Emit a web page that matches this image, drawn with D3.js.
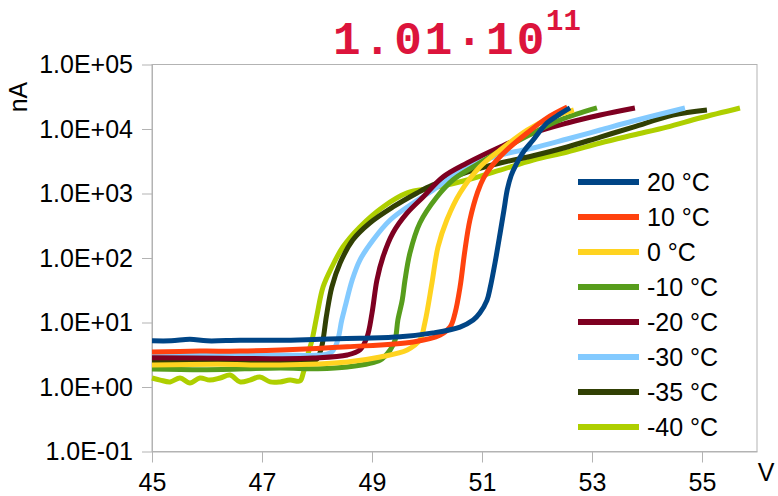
<!DOCTYPE html>
<html>
<head>
<meta charset="utf-8">
<script src="https://cdn.jsdelivr.net/npm/d3@7"></script>
<style>
  body { margin: 0; background: #fff; }
  text { font-family: "Liberation Sans", Arial, sans-serif; }
  .axis path, .axis line { stroke: #b3b3b3; }
  .axis text { font-size: 25px; fill: #000; }
</style>
</head>
<body>
<script>
// Series labels (legend order) and colours
var labels = ["20 °C", "10 °C", "0 °C", "-10 °C", "-20 °C", "-30 °C", "-35 °C", "-40 °C"];
var colors = ["#004586", "#ff420e", "#ffd320", "#579d1c", "#7e0021", "#83caff", "#314004", "#aecf00"];

// Voltage (V) and current (nA), one pair of arrays per temperature
var v20 = [45.00, 45.35, 45.69, 46.00, 46.60, 47.33, 48.05, 48.78, 49.51, 50.11, 50.60, 50.84, 50.96, 51.09, 51.15, 51.24, 51.33, 51.40, 51.46, 51.53, 51.62, 51.76, 51.93, 52.18, 52.42, 52.60];
var i20 = [5.2, 5.2, 5.5, 5.2, 5.3, 5.3, 5.5, 5.7, 6.0, 6.9, 8.5, 10.9, 14.0, 22, 35, 87, 244, 560, 1150, 1900, 2800, 4500, 6750, 12400, 17100, 21200];

var v10 = [45.00, 45.87, 46.60, 47.33, 48.55, 49.75, 50.24, 50.42, 50.51, 50.60, 50.69, 50.78, 50.92, 51.03, 51.15, 51.45, 51.82, 52.18, 52.55];
var i10 = [3.5, 3.6, 3.6, 3.75, 4.2, 5.0, 6.4, 8.5, 14.0, 35, 133, 388, 1050, 1750, 2500, 4720, 8670, 14800, 21900];

var v0 = [45.00, 46.20, 47.33, 48.55, 49.15, 49.64, 49.87, 49.96, 50.09, 50.20, 50.36, 50.60, 50.96, 51.33, 51.82, 52.24, 52.67];
var i0 = [2.19, 2.25, 2.19, 2.44, 2.92, 3.75, 5.36, 9.8, 40.9, 148, 388, 1020, 2580, 4720, 9640, 14800, 19700];

var vm10 = [45.00, 46.00, 47.33, 48.00, 48.55, 49.15, 49.33, 49.42, 49.47, 49.55, 49.60, 49.69, 49.87, 50.18, 50.47, 50.96, 51.45, 51.93, 52.42, 53.09];
var im10 = [1.90, 1.85, 1.97, 1.92, 2.04, 2.62, 3.75, 5.36, 10.9, 22.3, 45.6, 120, 349, 883, 1620, 2970, 5260, 8670, 13800, 21200];

var vm20 = [45.00, 46.24, 47.33, 47.93, 48.55, 48.78, 48.91, 49.00, 49.09, 49.20, 49.38, 49.64, 49.93, 50.29, 50.73, 51.33, 51.93, 52.55, 53.15, 53.78];
var im20 = [2.85, 2.80, 2.75, 2.82, 3.13, 3.75, 5.96, 14.0, 45.6, 104, 244, 499, 883, 1800, 2970, 5260, 8670, 12400, 16500, 21200];

var vm30 = [45.00, 46.24, 47.33, 48.24, 48.36, 48.45, 48.51, 48.64, 48.78, 49.02, 49.33, 49.75, 50.11, 50.73, 51.33, 51.93, 52.55, 53.15, 53.75, 54.69];
var im30 = [3.13, 3.10, 3.13, 3.37, 4.81, 10.9, 17.4, 45.6, 93, 190, 388, 713, 1130, 2580, 3950, 5070, 7000, 9640, 13300, 21200];

var vm35 = [45.00, 46.42, 47.69, 47.98, 48.07, 48.11, 48.16, 48.18, 48.27, 48.42, 48.65, 48.96, 49.38, 49.82, 50.11, 50.73, 51.33, 51.93, 52.55, 53.15, 53.75, 54.47, 55.09];
var im35 = [2.45, 2.45, 2.45, 2.62, 3.75, 5.36, 10.9, 14.0, 35.5, 83.6, 190, 349, 618, 1020, 1360, 2150, 2970, 3850, 5260, 7510, 10700, 16500, 19700];

var vm40 = [45.00, 45.15, 45.33, 45.51, 45.69, 45.87, 46.05, 46.24, 46.42, 46.60, 46.78, 46.96, 47.15, 47.33, 47.51, 47.69, 47.75, 47.82, 47.91, 48.00, 48.11, 48.27, 48.47, 48.78, 49.20, 49.64, 50.11, 50.73, 51.33, 51.93, 52.55, 53.15, 53.75, 54.36, 54.96, 55.69];
var im40 = [1.38, 1.28, 1.20, 1.38, 1.15, 1.38, 1.28, 1.38, 1.53, 1.20, 1.28, 1.43, 1.20, 1.20, 1.28, 1.24, 1.65, 2.92, 5.36, 13.1, 35.5, 72.5, 148, 303, 618, 1020, 1220, 1620, 2310, 3300, 4400, 6070, 8070, 10700, 14800, 21200];

// Axis ticks
var xTicks = [45, 47, 49, 51, 53, 55];
var yTicks = [0.1, 1, 10, 100, 1000, 10000, 100000];

var volts = [v20, v10, v0, vm10, vm20, vm30, vm35, vm40];
var amps = [i20, i10, i0, im10, im20, im30, im35, im40];

// Set graph dimensions and margins
var margin = {top: 64.5, right: 21, bottom: 44.5, left: 152},
    width = 778 - margin.left - margin.right,
    height = 496 - margin.top - margin.bottom;

var x = d3.scaleLinear().domain([45, 56]).range([0, width]);
var y = d3.scaleLog().domain([0.1, 100000]).range([height, 0]);

var svg = d3.select("body").append("svg")
    .attr("width", 778)
    .attr("height", 496);

var g = svg.append("g")
    .attr("transform", "translate(" + margin.left + "," + margin.top + ")");

// Plot frame
g.append("rect")
    .attr("width", width)
    .attr("height", height)
    .attr("fill", "none")
    .attr("stroke", "#b3b3b3")
    .attr("stroke-width", 1);

// Axes
function sci(d) {
  var e = Math.round(Math.log10(d));
  return "1.0E" + (e < 0 ? "-" : "+") + String(Math.abs(e)).padStart(2, "0");
}

g.append("g")
    .attr("class", "axis")
    .call(d3.axisLeft(y).tickValues(yTicks).tickFormat(sci).tickSize(10).tickSizeOuter(0).tickPadding(9));

g.append("g")
    .attr("class", "axis")
    .attr("transform", "translate(0," + height + ")")
    .call(d3.axisBottom(x).tickValues(xTicks).tickFormat(d3.format("d")).tickSize(11).tickSizeOuter(0).tickPadding(11));

// Curves, coldest first so 20 °C sits on top
var line = d3.line()
    .x(function(d) { return x(d[0]); })
    .y(function(d) { return y(d[1]); })
    .curve(d3.curveCatmullRom.alpha(0.5));

var order = d3.range(labels.length).reverse();
order.forEach(function(k) {
  var pts = volts[k].map(function(v, j) { return [v, amps[k][j]]; });
  g.append("path")
      .datum(pts)
      .attr("d", line)
      .attr("fill", "none")
      .attr("stroke", colors[k])
      .attr("stroke-width", 5)
      .attr("stroke-linejoin", "round");
});

// Legend
var legend = svg.append("g").attr("transform", "translate(578,182)");
labels.forEach(function(lab, k) {
  legend.append("line")
      .attr("x1", 0).attr("x2", 61)
      .attr("y1", k * 35).attr("y2", k * 35)
      .attr("stroke", colors[k])
      .attr("stroke-width", 6);
  legend.append("text")
      .attr("x", 69)
      .attr("y", k * 35)
      .attr("dy", "0.35em")
      .style("font-size", "25px")
      .text(lab);
});

// Axis titles
svg.append("text")
    .attr("transform", "translate(27,97) rotate(-90)")
    .attr("text-anchor", "middle")
    .style("font-size", "25px")
    .text("nA");

svg.append("text")
    .attr("x", 766)
    .attr("y", 481)
    .attr("text-anchor", "middle")
    .style("font-size", "25px")
    .text("V");

// Title
svg.append("text")
    .attr("x", 333)
    .attr("y", 54)
    .style("font-family", "'Liberation Mono', monospace")
    .style("font-weight", "bold")
    .style("font-size", "46px")
    .style("letter-spacing", "3px")
    .style("fill", "#dc143c")
    .text("1.01·10");

svg.append("text")
    .attr("x", 546)
    .attr("y", 30)
    .style("font-family", "'Liberation Mono', monospace")
    .style("font-weight", "bold")
    .style("font-size", "29px")
    .style("fill", "#dc143c")
    .text("11");
</script>
</body>
</html>
